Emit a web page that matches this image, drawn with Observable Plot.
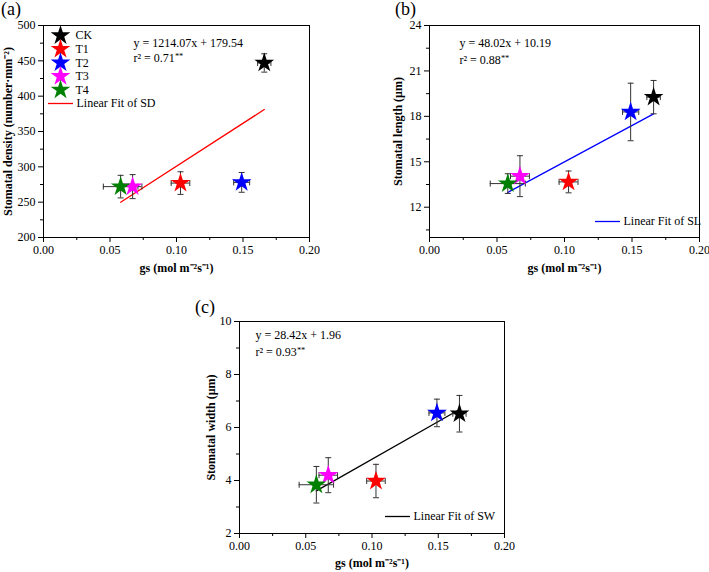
<!DOCTYPE html>
<html><head><meta charset="utf-8">
<script src="https://cdn.jsdelivr.net/npm/d3@7"></script>
<script src="https://cdn.jsdelivr.net/npm/@observablehq/plot@0.6"></script>
<style>
body{margin:0;background:#fff;}
#wrap{position:relative;width:709px;height:572px;font-family:"Liberation Serif",serif;overflow:hidden;}
.panel{position:absolute;}
.plabel{position:absolute;font-size:18px;line-height:18px;font-family:"Liberation Serif",serif;}
svg g[aria-label="x-axis label"] text, svg g[aria-label="y-axis label"] text{font-weight:bold;}
</style></head><body>
<div id="wrap">
  <div class="plabel" style="left:1px;top:0px">(a)</div>
  <div class="plabel" style="left:395px;top:0px">(b)</div>
  <div class="plabel" style="left:195px;top:298px">(c)</div>
</div>
<script>
// ---- data ----
const groups = ["CK","T1","T2","T3","T4"];
const colors = ["#000000","#ff0000","#0000ff","#ff00ff","#008000"];
const gs = [0.166,0.103,0.149,0.067,0.058];
const gsErr = [0.005,0.007,0.006,0.007,0.013];
const SD = [447,277,278,272,272];
const SDerr = [13,16,14,17,16];
const SL = [19.27,13.67,18.29,14.05,13.56];
const SLerr = [1.1,0.72,1.9,1.35,0.65];
const SW = [6.52,3.98,6.55,4.2,3.84];
const SWerr = [0.69,0.63,0.52,0.66,0.69];
const fitSD = [1214.07,179.54];
const fitSL = [48.02,10.19];
const fitSW = [28.42,1.96];
const eqSD = ["y = 1214.07x + 179.54","r² = 0.71**"];
const eqSL = ["y = 48.02x + 10.19","r² = 0.88**"];
const eqSW = ["y = 28.42x + 1.96","r² = 0.93**"];
const xTicks = [0,0.05,0.1,0.15,0.2];
const xMinor = [0.025,0.075,0.125,0.175];
const yTicksSD = [200,250,300,350,400,450,500];
const yMinorSD = [225,275,325,375,425,475];
const yTicksSL = [12,15,18,21,24];
const yMinorSL = [10.5,13.5,16.5,19.5,22.5];
const yTicksSW = [2,4,6,8,10];
const yMinorSW = [3,5,7,9];

const hCap = {draw(c,s){const w=Math.sqrt(s/Math.PI);c.moveTo(-w,0);c.lineTo(w,0);}};
const vCap = {draw(c,s){const w=Math.sqrt(s/Math.PI);c.moveTo(0,-w);c.lineTo(0,w);}};
const ebColor = "#333";
const starR = 6.2;

function makePanel(cfg){
  const data = groups.map((g,i)=>({g, color: colors[i], x: gs[i], xe: gsErr[i], y: cfg.y[i], ye: cfg.ye[i]}));
  const [m,b] = cfg.fit;
  const fitLine = [d3.min(gs), d3.max(gs)].map(x=>({x, y: m*x+b}));
  const marks = [
    Plot.axisX(xTicks, {tickFormat: d3.format(".2f"), tickSize:5, tickPadding:3, label:"gs (mol m⁻²s⁻¹)", labelAnchor:"center", labelArrow:"none", labelOffset: cfg.xlabOff}),
    Plot.axisX(xMinor, {tickSize:3, tickFormat: ()=>"", label:null}),
    Plot.axisY(cfg.yTicks, {tickSize:5, tickPadding:3, label: cfg.ylabel, labelAnchor:"center", labelArrow:"none", labelOffset: cfg.ylabOff}),
    Plot.axisY(cfg.yMinor, {tickSize:3, tickFormat: ()=>"", label:null}),
    Plot.frame({stroke:"black"}),
    Plot.line(fitLine, {x:"x", y:"y", stroke: cfg.fitColor, strokeWidth:1.3}),
    // error bars
    Plot.ruleX(data, {x:"x", y1: d=>d.y-d.ye, y2: d=>d.y+d.ye, stroke: ebColor, strokeWidth:1}),
    Plot.ruleY(data, {y:"y", x1: d=>d.x-d.xe, x2: d=>d.x+d.xe, stroke: ebColor, strokeWidth:1}),
    Plot.dot(data, {x:"x", y: d=>d.y+d.ye, symbol: hCap, r:3, fill:"none", stroke: ebColor, strokeWidth:1}),
    Plot.dot(data, {x:"x", y: d=>d.y-d.ye, symbol: hCap, r:3, fill:"none", stroke: ebColor, strokeWidth:1}),
    Plot.dot(data, {x: d=>d.x-d.xe, y:"y", symbol: vCap, r:3, fill:"none", stroke: ebColor, strokeWidth:1}),
    Plot.dot(data, {x: d=>d.x+d.xe, y:"y", symbol: vCap, r:3, fill:"none", stroke: ebColor, strokeWidth:1}),
    Plot.dot(data, {x:"x", y:"y", symbol:"star", fill: d=>d.color, r: starR}),
    // equation
    Plot.text([cfg.eq[0]], {frameAnchor:"top-left", text: d=>d, dx: cfg.eqPos[0], dy: cfg.eqPos[1], textAnchor:"start", lineAnchor:"middle"}),
    Plot.text([cfg.eq[1]], {frameAnchor:"top-left", text: d=>d, dx: cfg.eqPos[0], dy: cfg.eqPos[2], textAnchor:"start", lineAnchor:"middle"}),
    // fit legend
    Plot.dot([cfg.fitLabel], {frameAnchor:"top-left", dx: cfg.legFit[0]+12, dy: cfg.legFit[1], symbol: hCap, r:12.5, fill:"none", stroke: cfg.fitColor, strokeWidth:1.3}),
    Plot.text([cfg.fitLabel], {frameAnchor:"top-left", text: d=>d, dx: cfg.legFit[0]+28, dy: cfg.legFit[1], textAnchor:"start", lineAnchor:"middle"})
  ];
  if (cfg.groupLegend) {
    groups.forEach((g,i)=>{
      marks.push(Plot.dot([g], {frameAnchor:"top-left", dx: cfg.groupLegend[0], dy: cfg.groupLegend[1]+i*cfg.groupLegend[2], symbol:"star", fill: colors[i], r: starR}));
      marks.push(Plot.text([g], {frameAnchor:"top-left", text: d=>d, dx: cfg.groupLegend[0]+15, dy: cfg.groupLegend[1]+i*cfg.groupLegend[2], textAnchor:"start", lineAnchor:"middle"}));
    });
  }
  const svg = Plot.plot({
    width: cfg.width, height: cfg.height,
    marginLeft: cfg.m[0], marginRight: cfg.m[1], marginTop: cfg.m[2], marginBottom: cfg.m[3],
    x: {domain:[0,0.2]},
    y: {domain: cfg.ydomain},
    color: {type:"identity"},
    style: {fontFamily:'"Liberation Serif", serif', fontSize:"12px", color:"black", background:"transparent", overflow:"visible"},
    marks
  });
  // superscript the significance stars
  d3.select(svg).selectAll("text").each(function(){
    const t = this.textContent;
    if (t.endsWith("**") && this.children.length === 0) {
      this.textContent = t.slice(0,-2);
      d3.select(this).append("tspan").attr("dy","-0.45em").attr("font-size","0.7em").text("**");
    }
  });
  const div = document.createElement("div");
  div.className = "panel";
  div.style.left = cfg.left + "px";
  div.style.top = cfg.top + "px";
  div.appendChild(svg);
  document.getElementById("wrap").appendChild(div);
}

makePanel({
  y: SD, ye: SDerr, fit: fitSD, eq: eqSD, ydomain:[200,500], yTicks: yTicksSD, yMinor: yMinorSD,
  ylabel: "Stomatal density (number·mm⁻²)", fitColor:"#ff0000", fitLabel:"Linear Fit of SD",
  left:0, top:0, width:320, height:285, m:[43,11,25,48], xlabOff:34, ylabOff:40,
  eqPos:[90,18,33], legFit:[5,78], groupLegend:[17,10,13.6]
});
makePanel({
  y: SL, ye: SLerr, fit: fitSL, eq: eqSL, ydomain:[10,24], yTicks: yTicksSL, yMinor: yMinorSL,
  ylabel: "Stomatal length (μm)", fitColor:"#0000ff", fitLabel:"Linear Fit of SL",
  left:380, top:0, width:329, height:285, m:[49,10,25,48], xlabOff:34, ylabOff:36,
  eqPos:[30,18,35], legFit:[166,196]
});
makePanel({
  y: SW, ye: SWerr, fit: fitSW, eq: eqSW, ydomain:[2,10], yTicks: yTicksSW, yMinor: yMinorSW,
  ylabel: "Stomatal width (μm)", fitColor:"#000000", fitLabel:"Linear Fit of SW",
  left:190, top:290, width:330, height:282, m:[49,16,31,39], xlabOff:33, ylabOff:33,
  eqPos:[16,14,31], legFit:[146,195]
});
</script>
</body></html>
